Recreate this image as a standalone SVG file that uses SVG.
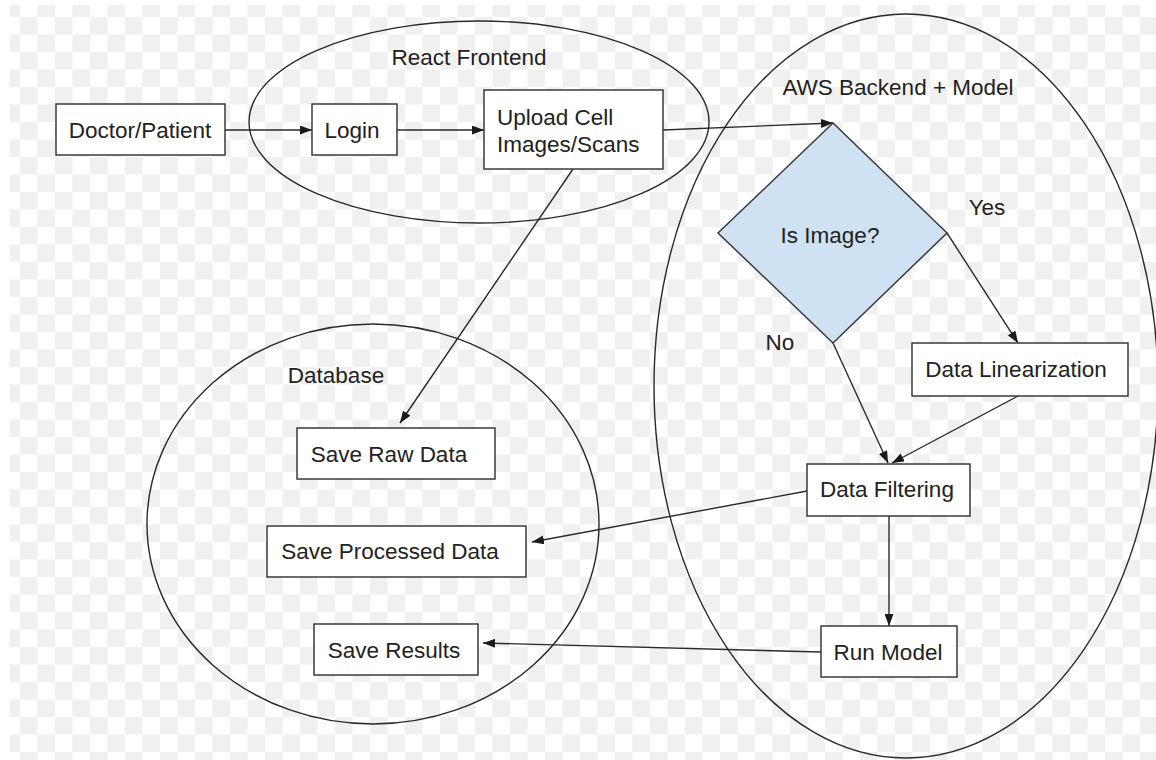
<svg xmlns="http://www.w3.org/2000/svg" width="1156" height="760" viewBox="0 0 1156 760">
  <style>
    .box { fill: #ffffff; stroke: #3a3a3a; stroke-width: 1.5; }
    .zone { fill: none; stroke: #2a2a2a; stroke-width: 1.4; }
    .decision { fill: #cfe2f3; stroke: #3a3a3a; stroke-width: 1.5; }
    .lbl { font-family: "Liberation Sans", Arial, sans-serif; font-size: 22.5px; fill: #222222; }
    .mid { text-anchor: middle; }
    .edge { fill: none; stroke: #2a2a2a; stroke-width: 1.4; }
  </style>
  <defs>
    <pattern id="checker" x="20" y="17" width="35" height="35" patternUnits="userSpaceOnUse">
      <rect x="0" y="0" width="35" height="35" fill="#ffffff"/>
      <rect x="0" y="0" width="17.5" height="17.5" fill="#f0f0f0"/>
      <rect x="17.5" y="17.5" width="17.5" height="17.5" fill="#f0f0f0"/>
    </pattern>
    <marker id="arrow" viewBox="0 0 12 9" refX="12" refY="4.5" markerWidth="12" markerHeight="9" markerUnits="userSpaceOnUse" orient="auto">
      <path d="M0,0 L12,4.5 L0,9 z" fill="#1a1a1a"/>
    </marker>
  </defs>

  <!-- canvas -->
  <rect x="0" y="0" width="1156" height="760" fill="#ffffff"/>
  <rect x="10" y="5" width="1146" height="755" fill="url(#checker)"/>

  <!-- grouping zones -->
  <g id="zone-frontend">
    <ellipse class="zone" cx="479" cy="122" rx="230" ry="101"/>
    <text class="lbl mid" x="469" y="65">React Frontend</text>
  </g>
  <g id="zone-backend">
    <ellipse class="zone" cx="906" cy="386" rx="252" ry="372"/>
    <text class="lbl mid" x="898" y="95">AWS Backend + Model</text>
  </g>
  <g id="zone-database">
    <ellipse class="zone" cx="373" cy="524" rx="226" ry="200"/>
    <text class="lbl mid" x="336" y="383">Database</text>
  </g>

  <!-- connectors -->
  <g id="connectors">
    <line class="edge" x1="225" y1="130" x2="312" y2="130" marker-end="url(#arrow)"/>
    <line class="edge" x1="397" y1="130" x2="484" y2="130" marker-end="url(#arrow)"/>
    <line class="edge" x1="663" y1="130" x2="833" y2="123" marker-end="url(#arrow)"/>
    <line class="edge" x1="573" y1="169" x2="400" y2="423" marker-end="url(#arrow)"/>
    <line class="edge" x1="947" y1="233" x2="1018" y2="343" marker-end="url(#arrow)"/>
    <line class="edge" x1="833" y1="343" x2="888" y2="463" marker-end="url(#arrow)"/>
    <line class="edge" x1="1018" y1="396" x2="892" y2="463" marker-end="url(#arrow)"/>
    <line class="edge" x1="807" y1="491" x2="532" y2="542" marker-end="url(#arrow)"/>
    <line class="edge" x1="889" y1="516" x2="889" y2="626" marker-end="url(#arrow)"/>
    <line class="edge" x1="821" y1="652" x2="483" y2="643" marker-end="url(#arrow)"/>
    <text class="lbl mid" x="987" y="215">Yes</text>
    <text class="lbl mid" x="780" y="350">No</text>
  </g>

  <!-- nodes -->
  <g id="doctor-patient">
    <rect class="box" x="56" y="104" width="169" height="51"/>
    <text class="lbl mid" x="140" y="138">Doctor/Patient</text>
  </g>
  <g id="login">
    <rect class="box" x="312" y="104" width="85" height="51"/>
    <text class="lbl mid" x="352" y="138">Login</text>
  </g>
  <g id="upload">
    <rect class="box" x="484" y="90" width="179" height="79"/>
    <text class="lbl" x="497" y="125">Upload Cell</text>
    <text class="lbl" x="497" y="152">Images/Scans</text>
  </g>
  <g id="is-image">
    <polygon class="decision" points="833,123 947,233 833,343 718,233"/>
    <text class="lbl mid" x="830" y="243">Is Image?</text>
  </g>
  <g id="data-linearization">
    <rect class="box" x="912" y="343" width="216" height="53"/>
    <text class="lbl mid" x="1016" y="377">Data Linearization</text>
  </g>
  <g id="data-filtering">
    <rect class="box" x="807" y="464" width="163" height="52"/>
    <text class="lbl mid" x="887" y="497">Data Filtering</text>
  </g>
  <g id="run-model">
    <rect class="box" x="821" y="626" width="136" height="51"/>
    <text class="lbl mid" x="888" y="660">Run Model</text>
  </g>
  <g id="save-raw">
    <rect class="box" x="297" y="428" width="198" height="51"/>
    <text class="lbl mid" x="389" y="462">Save Raw Data</text>
  </g>
  <g id="save-processed">
    <rect class="box" x="267" y="526" width="259" height="51"/>
    <text class="lbl mid" x="390" y="559">Save Processed Data</text>
  </g>
  <g id="save-results">
    <rect class="box" x="314" y="624" width="164" height="51"/>
    <text class="lbl mid" x="394" y="658">Save Results</text>
  </g>
</svg>
